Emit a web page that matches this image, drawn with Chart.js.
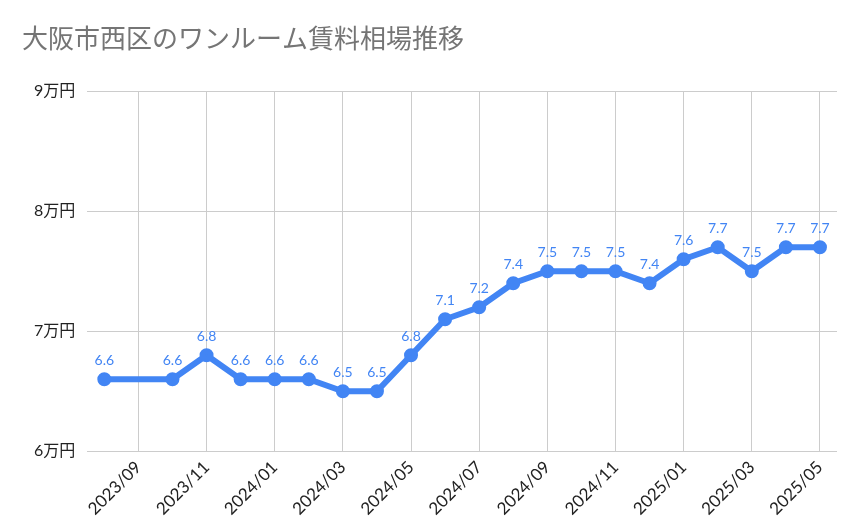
<!DOCTYPE html>
<html>
<head>
<meta charset="utf-8">
<script src="https://cdn.jsdelivr.net/npm/chart.js@4"></script>
<style>
  body { margin: 0; background: #fff; }
  #wrap { width: 859px; height: 531px; position: relative; }
</style>
</head>
<body>
<div id="wrap"><canvas id="grafico"></canvas></div>
<script>
// data
const meses = ["2023/08","2023/09","2023/10","2023/11","2023/12","2024/01","2024/02","2024/03","2024/04","2024/05","2024/06","2024/07","2024/08","2024/09","2024/10","2024/11","2024/12","2025/01","2025/02","2025/03","2025/04","2025/05"];
const aluguel = [6.6, null, 6.6, 6.8, 6.6, 6.6, 6.6, 6.5, 6.5, 6.8, 7.1, 7.2, 7.4, 7.5, 7.5, 7.5, 7.4, 7.6, 7.7, 7.5, 7.7, 7.7];
const tituloTexto = "大阪市西区のワンルーム賃料相場推移";

const FONTE = "Lato, 'Noto Sans CJK JP', sans-serif";
const AZUL = "#4285F4";

// rótulos acima dos pontos
const rotulos = {
  id: "rotulos",
  afterDatasetsDraw(chart) {
    const ctx = chart.ctx;
    const meta = chart.getDatasetMeta(0);
    ctx.save();
    ctx.fillStyle = AZUL;
    ctx.font = "14px " + FONTE;
    ctx.textAlign = "center";
    ctx.textBaseline = "bottom";
    meta.data.forEach((p, i) => {
      const v = aluguel[i];
      if (v === null) return;
      ctx.fillText(v.toFixed(1), p.x, p.y - 12);
    });
    ctx.restore();
  }
};

new Chart(document.getElementById("grafico"), {
  type: "line",
  data: {
    labels: meses,
    datasets: [{
      data: aluguel,
      borderColor: AZUL,
      backgroundColor: AZUL,
      borderWidth: 6,
      pointRadius: 4,
      pointHoverRadius: 4,
      spanGaps: true,
      tension: 0
    }]
  },
  options: {
    responsive: true,
    maintainAspectRatio: false,
    animation: false,
    layout: { padding: { left: 22, right: 22, top: 14, bottom: 6 } },
    plugins: {
      legend: { display: false },
      tooltip: { enabled: false },
      title: {
        display: true,
        text: tituloTexto,
        align: "start",
        color: "#757575",
        font: { family: FONTE, size: 26, weight: "normal" },
        padding: { top: 10, bottom: 36 }
      }
    },
    scales: {
      x: {
        offset: true,
        grid: {
          drawTicks: false,
          color: (c) => (c.index % 2 === 1 ? "#cccccc" : "rgba(0,0,0,0)")
        },
        border: { display: false },
        ticks: {
          autoSkip: false,
          maxRotation: 45,
          minRotation: 45,
          padding: 6,
          color: "#222",
          font: { family: FONTE, size: 17 },
          callback: (v, i) => (i % 2 === 1 ? meses[i] : "")
        }
      },
      y: {
        min: 6, max: 9,
        grid: { color: "#cccccc", drawTicks: false },
        border: { display: false },
        ticks: {
          stepSize: 1,
          padding: 12,
          color: "#222",
          font: { family: FONTE, size: 16 },
          callback: (v) => v + "万円"
        }
      }
    }
  },
  plugins: [rotulos]
});
</script>
</body>
</html>
